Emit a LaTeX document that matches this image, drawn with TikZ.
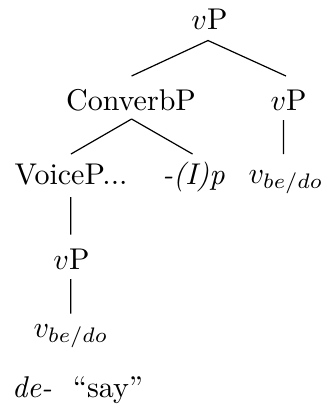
\documentclass[tikz,border=0pt]{standalone}
\usetikzlibrary{calc}
\begin{document}
\begin{tikzpicture}[x=0.3333pt,y=-0.3333pt,
  lab/.style={inner sep=0pt,anchor=base,font=\fontsize{10}{12}\selectfont},
  branch/.style={line width=0.4pt,draw=black}]
\useasboundingbox (0,0) rectangle (329,408);
\node[lab] (top) at (209.5,29) {$v$P};
\node[lab] (conv) at (131,110) {ConverbP};
\node[lab] (rvp) at (288.6,110) {$v$P};
\node[lab] (voice) at (71,184) {VoiceP...};
\node[lab] (ip) at (193.5,184) {\textit{-(I)p}};
\node[lab] (rv) at (286,183) {$v_{be/do}$};
\node[lab] (lvp) at (71.5,269) {$v$P};
\node[lab] (lv) at (71,337) {$v_{be/do}$};
\node[lab,anchor=base west] (de) at (11.5,397) {\textit{de-}\hspace{7pt}``say''};
\draw[branch] ($(top.base)+(-1.5,11.5)$) -- ($(conv.base)+(0.6,-34)$);
\draw[branch] ($(top.base)+(-1.5,11.5)$) -- ($(rvp.base)+(-2.6,-34)$);
\draw[branch] ($(conv.base)+(0.6,9)$) -- ($(voice.base)+(0,-30)$);
\draw[branch] ($(conv.base)+(0.6,9)$) -- ($(ip.base)+(-1,-30)$);
\draw[branch] ($(rvp.base)+(-5,10)$) -- ($(rv.base)+(-2.4,-29)$);
\draw[branch] ($(voice.base)+(-0.3,13)$) -- ($(lvp.base)+(-0.8,-34.5)$);
\draw[branch] ($(lvp.base)+(-0.8,10)$) -- ($(lv.base)+(-0.3,-23.5)$);
\end{tikzpicture}
\end{document}
